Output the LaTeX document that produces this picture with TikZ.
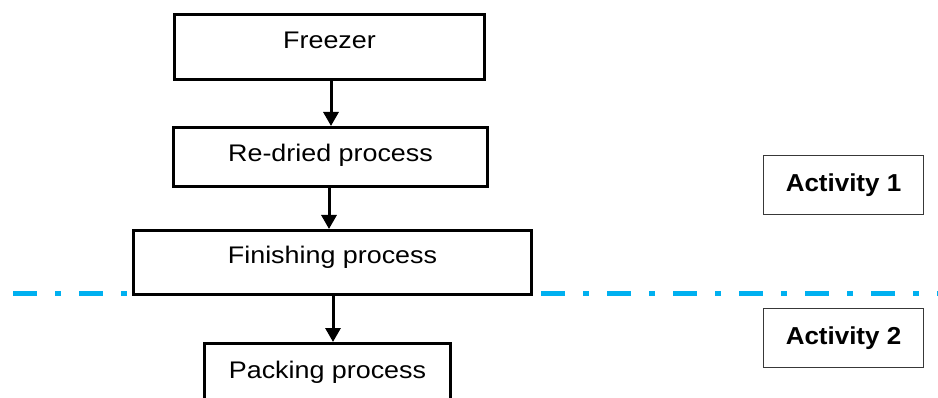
\documentclass[tikz,border=0pt]{standalone}
\usepackage{fontspec}
\usepackage{graphicx}
\setmainfont{Liberation Sans}
\usetikzlibrary{arrows.meta}
\definecolor{phaseblue}{HTML}{00B0F0}
\definecolor{framegray}{HTML}{383838}
\newcommand{\proctext}[1]{\fontsize{24}{29}\selectfont\scalebox{1.12}[1]{#1}}
\newcommand{\acttext}[1]{\fontsize{24.5}{29}\selectfont\bfseries\scalebox{1.06}[1]{#1}}
\tikzset{
  procbox/.style={draw=black, line width=3pt, fill=white, rectangle,
    inner sep=0pt, text height=10pt, text depth=8.4pt},
  actbox/.style={draw=framegray, line width=1.2pt, fill=white, rectangle,
    inner sep=0pt, minimum width=160pt, minimum height=59pt,
    text height=14pt, text depth=0.6pt},
  flow/.style={line width=3pt, -{Triangle[width=15pt,length=14pt]}},
  phaseline/.style={draw=phaseblue, line width=5pt,
    dash pattern=on 24pt off 18pt on 6pt off 18pt}
}
\begin{document}
\begin{tikzpicture}[x=1pt,y=1pt]
  \useasboundingbox (0,0) rectangle (938,397);
  \clip (0,0) rectangle (938,397);

  % boundary between the two activities
  \coordinate (phaseL) at (13,104);
  \coordinate (phaseR) at (938,104);
  \draw[phaseline] (phaseL) -- (phaseR);

  % process chain
  \node[procbox, minimum width=310pt, minimum height=65pt, text height=10pt, text depth=7pt] (freezer) at (329.5,350) {\proctext{Freezer}};
  \node[procbox, minimum width=314pt, minimum height=59pt, text height=10pt, text depth=0pt] (redried) at (330.5,240) {\proctext{Re-dried process}};
  \node[procbox, minimum width=398pt, minimum height=64pt] (finish) at (332.5,134.5) {\proctext{Finishing process}};
  \node[procbox, minimum width=246pt, minimum height=67.4pt] (pack) at (327.5,19.8) {\proctext{Packing process}};

  % activity labels
  \node[actbox] (act1) at (843.5,212) {\acttext{Activity 1}};
  \node[actbox] (act2) at (843.5,59) {\acttext{Activity 2}};

  % connectors
  \coordinate (x1) at (331,0);
  \coordinate (x2) at (329,0);
  \coordinate (x3) at (333,0);
  \draw[flow] (freezer.south -| x1) -- (redried.north -| x1);
  \draw[flow] (redried.south -| x2) -- (finish.north -| x2);
  \draw[flow] (finish.south -| x3) -- (pack.north -| x3);
\end{tikzpicture}
\end{document}
